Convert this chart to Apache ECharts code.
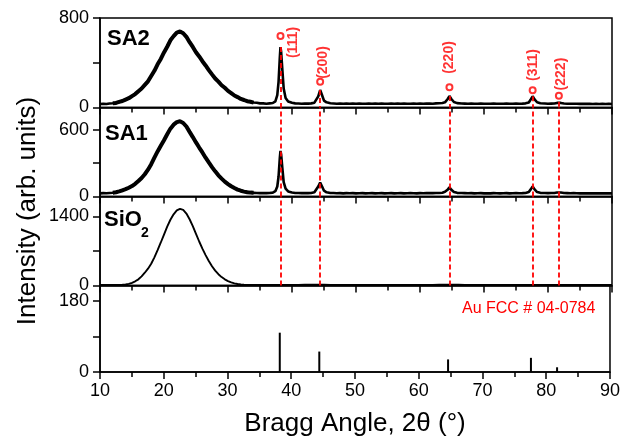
<!DOCTYPE html>
<html><head><meta charset="utf-8">
<script src="https://cdn.jsdelivr.net/npm/echarts@6/dist/echarts.min.js"></script>
<style>html,body{margin:0;padding:0;background:#fff}#c{width:623px;height:438px}</style>
</head><body><div id="c"></div>
<script>
// ---- data (2θ in degrees, intensity in arb. units) ----
const xTickLabels = [10, 20, 30, 40, 50, 60, 70, 80, 90];
const panelNames = ['SA2', 'SA1', 'SiO', 'Au FCC # 04-0784'];
const yMax = [800, 800, 1800, 220];
const yTickValues = [[0, 400, 800], [0, 300, 600], [0, 700, 1400], [0, 90, 180]];
const yLabelValues = [[0, 800], [0, 600], [0, 1400], [0, 180]];

const sa2 = [
[10,30],[10.5,34],[11,31],[11.5,36],[12,38],[12.5,41],[13,50],[13.5,58],[14,71],[14.5,83],[15,102],[15.5,120],[16,146],[16.5,170],[17,202],[17.5,234],[18,281],[18.5,328],[19,386],[19.5,434],[20,492],[20.5,543],[21,601],[21.5,638],[22,670],[22.5,680],[23,664],[23.5,632],[24,584],[24.5,541],[25,494],[25.5,456],[26,414],[26.5,376],[27,334],[27.5,296],[28,259],[28.5,231],[29,199],[29.5,176],[30,149],[30.5,129],[31,107],[31.5,93],[32,77],[32.5,67],[33,56],[33.5,51],[34,44],[34.5,42],[35,37],[35.5,37],[36,34],[36.5,37],[37,40],[37.4,55],[37.7,110],[37.9,230],[38.1,450],[38.2,540],[38.3,500],[38.5,330],[38.7,170],[39,85],[39.4,54],[40,42],[40.5,37],[41,36],[41.5,34],[42,36],[42.5,35],[43,37],[43.5,43],[43.8,56],[44.1,100],[44.4,156],[44.7,110],[45,62],[45.4,46],[46,38],[46.5,36],[47,34],[47.5,36],[48,33],[48.5,35],[49,34],[49.5,36],[50,33],[50.5,35],[51,34],[51.5,33],[52,35],[52.5,34],[53,36],[53.5,33],[54,35],[54.5,34],[55,33],[55.5,35],[56,34],[56.5,36],[57,33],[57.5,35],[58,34],[58.5,33],[59,35],[59.5,34],[60,36],[60.5,34],[61,35],[61.5,36],[62,34],[62.5,37],[63,38],[63.5,40],[63.9,46],[64.3,74],[64.6,102],[64.9,76],[65.3,49],[65.8,39],[66.5,36],[67,35],[67.5,34],[68,35],[68.5,33],[69,34],[69.5,35],[70,33],[70.5,34],[71,33],[71.5,35],[72,34],[72.5,33],[73,34],[73.5,35],[74,33],[74.5,34],[75,35],[75.5,34],[76,35],[76.5,37],[77,45],[77.3,72],[77.6,100],[77.9,73],[78.3,47],[78.8,38],[79.5,36],[80,34],[80.5,35],[81,36],[81.4,41],[81.7,52],[82,41],[82.5,36],[83,34],[83.5,33],[84,34],[84.5,33],[85,32],[85.5,33],[86,32],[86.5,33],[87,31],[87.5,32],[88,31],[88.5,32],[89,31],[89.5,32],[90,31]
];

const sa1 = [
[10,28],[10.5,30],[11,29],[11.5,32],[12,34],[12.5,38],[13,46],[13.5,56],[14,66],[14.5,79],[15,94],[15.5,114],[16,139],[16.5,166],[17,200],[17.5,241],[18,290],[18.5,349],[19,405],[19.5,456],[20,506],[20.5,559],[21,610],[21.5,646],[22,668],[22.5,676],[23,661],[23.5,629],[24,581],[24.5,534],[25,486],[25.5,440],[26,396],[26.5,349],[27,306],[27.5,264],[28,226],[28.5,190],[29,161],[29.5,134],[30,112],[30.5,92],[31,76],[31.5,62],[32,52],[32.5,44],[33,39],[33.5,35],[34,33],[34.5,31],[35,30],[35.5,31],[36,30],[36.5,32],[37,35],[37.4,48],[37.7,90],[37.9,180],[38.1,350],[38.2,410],[38.3,380],[38.5,250],[38.7,130],[39,70],[39.4,45],[40,36],[40.5,32],[41,31],[41.5,30],[42,31],[42.5,30],[43,32],[43.5,38],[43.8,50],[44.1,90],[44.4,125],[44.7,90],[45,52],[45.4,38],[46,32],[46.5,31],[47,29],[47.5,30],[48,28],[48.5,30],[49,29],[49.5,30],[50,28],[50.5,29],[51,30],[51.5,28],[52,29],[52.5,30],[53,28],[53.5,29],[54,30],[54.5,28],[55,29],[55.5,30],[56,28],[56.5,29],[57,30],[57.5,28],[58,29],[58.5,30],[59,29],[59.5,28],[60,30],[60.5,29],[61,30],[61.5,31],[62,30],[62.5,31],[63,32],[63.5,34],[63.9,42],[64.3,60],[64.6,82],[64.9,60],[65.3,40],[65.8,33],[66.5,31],[67,30],[67.5,29],[68,30],[68.5,28],[69,29],[69.5,30],[70,28],[70.5,29],[71,28],[71.5,30],[72,29],[72.5,28],[73,29],[73.5,30],[74,28],[74.5,29],[75,30],[75.5,29],[76,30],[76.5,32],[77,40],[77.3,64],[77.6,90],[77.9,64],[78.3,40],[78.8,33],[79.5,31],[80,30],[80.5,31],[81,32],[81.4,36],[81.7,42],[82,36],[82.5,31],[83,30],[83.5,29],[84,30],[84.5,29],[85,28],[85.5,29],[86,28],[86.5,29],[87,28],[87.5,29],[88,28],[88.5,29],[89,28],[89.5,29],[90,28]
];

const sio2 = [
[10,10],[10.5,12],[11,10],[11.5,11],[12,10],[12.5,12],[13,12],[13.5,14],[14,20],[14.5,32],[15,55],[15.5,85],[16,125],[16.5,185],[17,258],[17.5,340],[18,440],[18.5,570],[19,715],[19.5,870],[20,1030],[20.5,1190],[21,1330],[21.5,1440],[22,1520],[22.5,1550],[23,1530],[23.5,1455],[24,1340],[24.5,1200],[25,1045],[25.5,890],[26,745],[26.5,615],[27,495],[27.5,390],[28,300],[28.5,228],[29,170],[29.5,125],[30,90],[30.5,64],[31,44],[31.5,30],[32,20],[32.5,14],[33,12],[34,10],[35,11],[36,10],[37,10],[38,11],[39,10],[40,10],[41,12],[42,14],[43,16],[44,18],[45,15],[46,12],[47,10],[48,11],[50,10],[52,11],[54,10],[56,11],[58,10],[60,11],[62,12],[63,14],[64,16],[65,18],[66,15],[67,12],[68,11],[70,10],[72,11],[74,10],[76,10],[78,11],[80,10],[82,11],[84,10],[86,10],[88,11],[90,10]
];

// amorphous hump range drawn with a heavier (noisier) trace
const humpRange = [12, 34];

// Au FCC reference pattern (PDF 04-0784)
const auAngles = [38.2, 44.4, 64.6, 77.6, 81.7];
const auIntensity = [100, 52, 32, 36, 12];
const auLabels = ['(111)', '(200)', '(220)', '(311)', '(222)'];
// marker circles above SA2 peaks and dashed-line start heights (SA2 scale)
const markerHeights = [640, 230, 180, 155, 105];
const dashStart = [540, 156, 102, 100, 52];
// label anchors (2θ, SA2 scale)
const labelAngles = [40.2, 44.8, 64.5, 77.7, 82.0];
const labelHeights = [581, 402, 447, 380, 299];

// ---- chart ----
const FONT = 'Liberation Sans, Arial, sans-serif';
const tops = [18, 107.5, 196.5, 285.5];
const heights = [89.5, 89, 89, 89];
const RED = '#ff0000';

const grids = tops.map((t, i) => ({
  left: 100, width: 512, top: t, height: heights[i],
  show: true, borderColor: '#000', borderWidth: 1.5, backgroundColor: 'transparent'
}));

const xAxes = tops.map((t, i) => ({
  type: 'value', gridIndex: i, min: 10, max: 90, interval: 10,
  axisLine: { show: true, onZero: false, lineStyle: { color: '#000', width: 1.5 } },
  axisTick: { show: true, inside: false, length: 7, lineStyle: { color: '#000', width: 1.5 } },
  minorTick: { show: true, splitNumber: 2, length: 5, lineStyle: { color: '#000', width: 1.5 } },
  splitLine: { show: false },
  axisLabel: {
    show: i === 3, color: '#000', fontSize: 18, fontFamily: FONT, margin: 10,
    customValues: xTickLabels, formatter: v => String(v)
  },
  name: i === 3 ? 'Bragg Angle, 2θ (°)' : '',
  nameLocation: 'middle', nameGap: 39,
  nameTextStyle: { fontSize: 26, fontFamily: FONT, color: '#000' }
}));

const yAxes = tops.map((t, i) => ({
  type: 'value', gridIndex: i, min: 0, max: yMax[i],
  axisLine: { show: true, lineStyle: { color: '#000', width: 1.5 } },
  axisTick: { show: true, inside: false, length: 7, customValues: yTickValues[i], lineStyle: { color: '#000', width: 1.5 } },
  splitLine: { show: false },
  axisLabel: { show: true, color: '#000', fontSize: 18, fontFamily: FONT, margin: 11,
    customValues: yLabelValues[i], formatter: v => String(v) }
}));

const dashStyle = { color: RED, width: 1.8, type: [5, 3] };
const inHump = d => d[0] >= humpRange[0] && d[0] <= humpRange[1];

function trace(data, idx, width, extra) {
  return Object.assign({
    type: 'line', xAxisIndex: idx, yAxisIndex: idx, data, showSymbol: false, z: 3,
    lineStyle: { color: '#000', width }, itemStyle: { color: '#000' }, animation: false
  }, extra || {});
}

const series = [
  trace(sa2, 0, 2.6, {
    markLine: {
      silent: true, symbol: 'none', label: { show: false }, lineStyle: dashStyle, z: 4,
      data: auAngles.map((a, k) => [{ coord: [a, dashStart[k]] }, { coord: [a, 0] }])
    }
  }),
  trace(sa2.filter(inHump), 0, 4),
  trace(sa1, 1, 2.6, {
    markLine: {
      silent: true, symbol: 'none', label: { show: false }, lineStyle: dashStyle, z: 4,
      data: auAngles.map(a => ({ xAxis: a }))
    }
  }),
  trace(sa1.filter(inHump), 1, 4),
  trace(sio2, 2, 1.9, {
    markLine: {
      silent: true, symbol: 'none', label: { show: false }, lineStyle: dashStyle, z: 4,
      data: auAngles.map(a => ({ xAxis: a }))
    }
  }),
  {
    type: 'bar', xAxisIndex: 3, yAxisIndex: 3, barWidth: 2, animation: false,
    itemStyle: { color: '#000' },
    data: auAngles.map((a, k) => [a, auIntensity[k]])
  },
  {
    type: 'scatter', xAxisIndex: 0, yAxisIndex: 0, symbol: 'emptyCircle', symbolSize: 6,
    itemStyle: { color: RED, borderColor: RED, borderWidth: 1.5 }, animation: false, z: 5,
    data: auAngles.map((a, k) => [a, markerHeights[k]])
  },
  {
    type: 'scatter', xAxisIndex: 0, yAxisIndex: 0, symbolSize: 1, animation: false, z: 5,
    itemStyle: { color: 'rgba(0,0,0,0)' },
    label: {
      show: true, position: 'inside', rotate: 90, color: RED, fontSize: 14, fontWeight: 'bold',
      fontFamily: FONT, formatter: p => auLabels[p.dataIndex]
    },
    data: labelAngles.map((a, k) => [a, labelHeights[k]])
  }
];

const chart = echarts.init(document.getElementById('c'), null, { renderer: 'canvas' });
chart.setOption({
  animation: false,
  backgroundColor: '#fff',
  grid: grids, xAxis: xAxes, yAxis: yAxes, series,
  graphic: [
    { type: 'text', left: 107, top: 28, style: { text: panelNames[0], fontSize: 22, fontWeight: 'bold', fontFamily: FONT, fill: '#000' } },
    { type: 'text', left: 105, top: 123, style: { text: panelNames[1], fontSize: 22, fontWeight: 'bold', fontFamily: FONT, fill: '#000' } },
    { type: 'text', left: 104, top: 209, style: { text: panelNames[2], fontSize: 22, fontWeight: 'bold', fontFamily: FONT, fill: '#000' } },
    { type: 'text', left: 141, top: 226, style: { text: '2', fontSize: 14, fontWeight: 'bold', fontFamily: FONT, fill: '#000' } },
    { type: 'text', left: 462, top: 301, style: { text: panelNames[3], fontSize: 16, fontFamily: FONT, fill: RED } },
    { type: 'text', x: 28, y: 211, rotation: Math.PI / 2,
      style: { text: 'Intensity (arb. units)', fontSize: 26, fontFamily: FONT, fill: '#000', align: 'center', verticalAlign: 'middle' } }
  ]
});
</script>
</body></html>
